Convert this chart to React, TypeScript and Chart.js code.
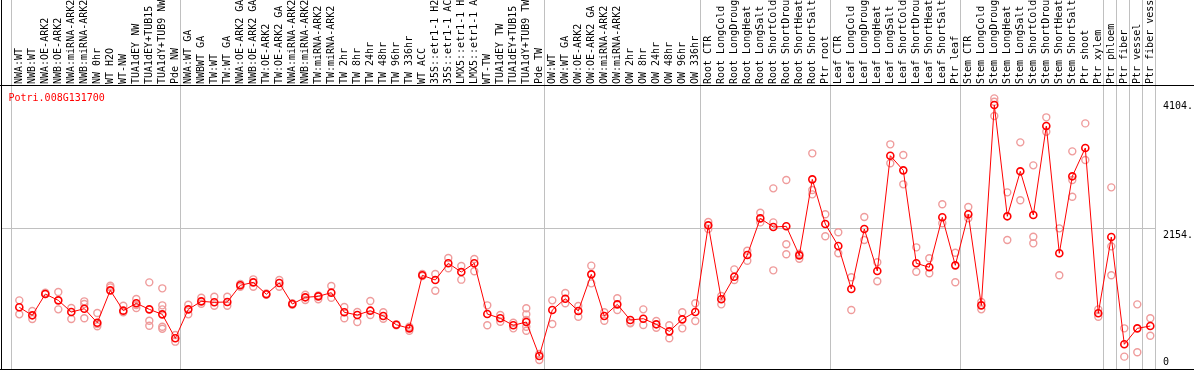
import React, { useEffect, useRef } from "react";
import { Chart, registerables } from "chart.js";

Chart.register(...registerables);

const geneId = "Potri.008G131700";

const categories = [
  "NWA:WT", "NWB:WT", "NWA:OE-ARK2", "NWB:OE-ARK2", "NWA:miRNA-ARK2", "NWB:miRNA-ARK2",
  "NW 0hr", "WT H2O", "WT-NW", "TUA1dEY NW", "TUA1dEY+TUB15", "TUA1dY+TUB9 NW", "Pde NW",
  "NWA:WT GA", "NWBWT GA", "TW:WT", "TW:WT GA", "NWA:OE-ARK2 GA", "NWB:OE-ARK2 GA",
  "TW:OE-ARK2", "TW:OE-ARK2 GA", "NWA:miRNA-ARK2", "NWB:miRNA-ARK2", "TW:miRNA-ARK2",
  "TW:miRNA-ARK2", "TW 2hr", "TW 8hr", "TW 24hr", "TW 48hr", "TW 96hr", "TW 336hr",
  "WT ACC", "35S::etr1-1 H2", "35S::etr1-1 AC", "LMX5::etr1-1 H", "LMX5::etr1-1 A",
  "WT-TW", "TUA1dEY TW", "TUA1dEY+TUB15", "TUA1dY+TUB9 TW", "Pde TW",
  "OW:WT", "OW:WT GA", "OW:OE-ARK2", "OW:OE-ARK2 GA", "OW:miRNA-ARK2", "OW:miRNA-ARK2",
  "OW 2hr", "OW 8hr", "OW 24hr", "OW 48hr", "OW 96hr", "OW 336hr",
  "Root CTR", "Root LongCold", "Root LongDroug", "Root LongHeat", "Root LongSalt",
  "Root ShortCold", "Root ShortDrou", "Root ShortHeat", "Root ShortSalt", "Ptr root",
  "Leaf CTR", "Leaf LongCold", "Leaf LongDroug", "Leaf LongHeat", "Leaf LongSalt",
  "Leaf ShortCold", "Leaf ShortDrou", "Leaf ShortHeat", "Leaf ShortSalt", "Ptr leaf",
  "Stem CTR", "Stem LongCold", "Stem LongDroug", "Stem LongHeat", "Stem LongSalt",
  "Stem ShortCold", "Stem ShortDrou", "Stem ShortHeat", "Stem ShortSalt", "Ptr shoot",
  "Ptr xylem", "Ptr phloem", "Ptr fiber", "Ptr vessel", "Ptr fiber vess",
];

const means = [
  939, 817, 1141, 1045, 867, 918, 705, 1197, 888, 1000, 908, 832, 467,
  908, 1030, 1015, 1020, 1274, 1319, 1137, 1309, 989, 1091, 1106, 1162, 863, 822, 888, 807,
  674, 619, 1426, 1355, 1609, 1476, 1609, 837, 772, 665, 715, 198,
  898, 1070, 883, 1441, 807, 984, 746, 766, 680, 573, 756, 867,
  2187, 1061, 1405, 1735, 2293, 2161, 2172, 1730, 2887, 2207,
  1872, 1218, 2131, 1492, 3247, 3024, 1609, 1548, 2309, 1578,
  2355, 969, 4018, 2324, 3009, 2344, 3698, 1761, 2933, 3364,
  848, 2009, 376, 619, 654,
];

const replicates = [
  [1045, 832], [883, 761], [1161, 1141], [1172, 908], [928, 761], [1030, 989, 772],
  [852, 685, 650], [1268, 1243], [963, 863], [1065, 974, 928], [1319, 735, 659],
  [1228, 969, 908, 644, 613], [517, 416],
  [979, 832], [1085, 994], [1100, 963], [1100, 963], [1294, 1253], [1365, 1253],
  [1150, 1130], [1355, 1253], [1000, 979], [1131, 1050], [1121, 1061], [1263, 1085],
  [944, 772], [867, 715], [1035, 822], [863, 766], [680, 665], [644, 583],
  [1446, 1416], [1446, 1192], [1689, 1533], [1568, 1360], [1674, 1487],
  [969, 665], [822, 720], [705, 619], [924, 832, 746, 644, 583], [228, 137],
  [1045, 685], [1157, 1000], [959, 796], [1573, 1304], [863, 735], [1076, 898],
  [705, 695], [908, 670], [731, 629], [665, 467], [863, 619], [1000, 731],
  [2237, 2131], [1111, 984], [1517, 1355], [1800, 1648], [2379, 2232],
  [2750, 2232, 1502], [2877, 1898, 1746], [1755, 1679], [3283, 2724, 2659], [2355, 2020],
  [2081, 1761], [1396, 898], [2313, 1963], [1624, 1335], [3420, 3131],
  [3257, 2811], [1852, 1481], [1685, 1457], [2507, 2218], [1770, 1320],
  [2466, 2294], [1020, 908], [4120, 4069, 3851], [2689, 1963], [3450, 2568],
  [3100, 2014, 1913], [3831, 3612], [2141, 1426], [3313, 2877, 2623], [3739, 3181],
  [908, 796], [2765, 1867, 1426], [619, 188], [984, 254], [772, 507],
];

// index of the last category of each group (-1 = left edge)
const groupEnds = [-1, 12, 40, 52, 62, 72, 83, 84, 85, 86, 87];
const yTickLabels = [4104, 2154, 0];
const yGridValues = [2154];
const yMax = 4308;

const FONT = '10px "DejaVu Sans Mono", monospace';

const decorPlugin = {
  id: "decor",
  beforeDatasetsDraw(chart: any) {
    const { ctx, chartArea, scales } = chart;
    const xs = scales.x;
    const ys = scales.y;
    ctx.save();
    // vertical group separators
    ctx.fillStyle = "#c0c0c0";
    for (const g of groupEnds) {
      const px = Math.round(xs.getPixelForValue(g + 5 / 13));
      ctx.fillRect(px, 0, 1, chartArea.bottom);
    }
    for (const v of yGridValues) {
      const py = Math.round(ys.getPixelForValue(v));
      ctx.fillRect(chartArea.left, py, chartArea.right - chartArea.left, 1);
    }
    // frame lines
    ctx.fillStyle = "#000000";
    ctx.fillRect(0, chartArea.top - 1, chart.width, 1);
    ctx.fillRect(0, chartArea.bottom, chart.width, 1);
    ctx.fillRect(1, 0, 1, chart.height);

    // category labels (rotated)
    ctx.font = FONT;
    ctx.fillStyle = "#000000";
    ctx.textAlign = "left";
    ctx.textBaseline = "middle";
    categories.forEach((label, i) => {
      const px = xs.getPixelForValue(i);
      ctx.save();
      ctx.translate(px, chartArea.top - 2);
      ctx.rotate(-Math.PI / 2);
      ctx.fillText(label, 0, 0);
      ctx.restore();
    });

    // title
    ctx.fillStyle = "#ff0000";
    ctx.textBaseline = "alphabetic";
    ctx.fillText(geneId, 8.5, chartArea.top + 15);

    // y labels on the right
    ctx.fillStyle = "#000000";
    for (const v of yTickLabels) {
      const py = ys.getPixelForValue(v);
      const txt = v === 0 ? "0" : String(v) + ".";
      const y = v === 0 ? py - 4 : py + 10;
      ctx.fillText(txt, chartArea.right + 8, y);
    }
    ctx.restore();
  },
};

export default function App() {
  const ref = useRef<HTMLCanvasElement | null>(null);

  useEffect(() => {
    document.body.style.margin = "0";
    const canvas = ref.current;
    if (!canvas) return;
    const meanData = means.map((v, i) => ({ x: i, y: v }));
    const repData: { x: number; y: number }[] = [];
    replicates.forEach((arr, i) => arr.forEach((v) => repData.push({ x: i, y: v })));

    const chart = new Chart(canvas, {
      type: "scatter",
      data: {
        datasets: [
          {
            label: "mean",
            data: meanData,
            showLine: true,
            borderColor: "#ff0000",
            borderWidth: 1,
            pointRadius: 3.5,
            pointBorderWidth: 1.6,
            pointBorderColor: "#ff0000",
            pointBackgroundColor: "rgba(0,0,0,0)",
            tension: 0,
            order: 0,
          } as any,
          {
            label: "replicates",
            data: repData,
            showLine: false,
            pointRadius: 3.5,
            pointBorderWidth: 1.4,
            pointBorderColor: "#ef9c9c",
            pointBackgroundColor: "rgba(0,0,0,0)",
            order: 1,
          } as any,
        ],
      },
      options: {
        responsive: false,
        animation: false,
        devicePixelRatio: 1,
        layout: { autoPadding: false, padding: { left: 1, right: 39, top: 86, bottom: 1 } },
        scales: {
          x: { type: "linear", min: -18.3 / 13, max: -18.3 / 13 + 1154 / 13, display: false },
          y: { type: "linear", min: 0, max: yMax, display: false },
        },
        plugins: {
          legend: { display: false },
          tooltip: { enabled: false },
          title: { display: false },
        },
      },
      plugins: [decorPlugin],
    });
    return () => chart.destroy();
  }, []);

  return <canvas ref={ref} width={1194} height={370} style={{ display: "block" }} />;
}
